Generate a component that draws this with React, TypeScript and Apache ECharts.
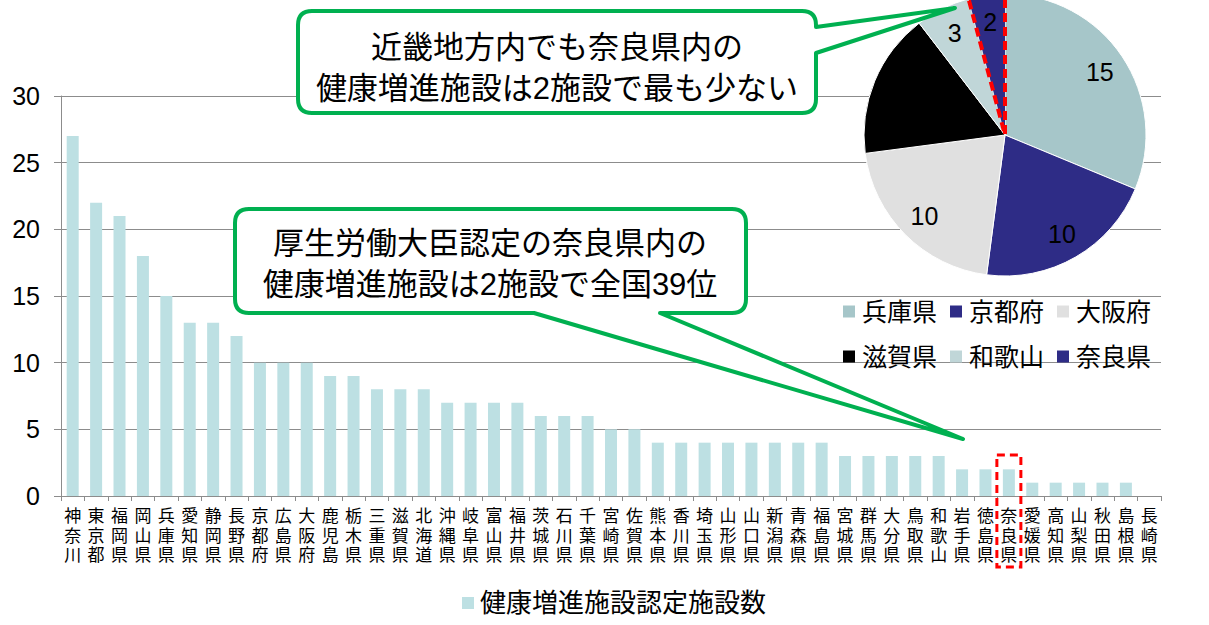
import React, { useEffect, useRef } from 'react';
import * as echarts from 'echarts';

const prefectures = ['神奈川', '東京都', '福岡県', '岡山県', '兵庫県', '愛知県', '静岡県', '長野県', '京都府', '広島県', '大阪府', '鹿児島', '栃木県', '三重県', '滋賀県', '北海道', '沖縄県', '岐阜県', '富山県', '福井県', '茨城県', '石川県', '千葉県', '宮崎県', '佐賀県', '熊本県', '香川県', '埼玉県', '山形県', '山口県', '新潟県', '青森県', '福島県', '宮城県', '群馬県', '大分県', '鳥取県', '和歌山', '岩手県', '徳島県', '奈良県', '愛媛県', '高知県', '山梨県', '秋田県', '島根県', '長崎県'];
const facilityCounts = [27, 22, 21, 18, 15, 13, 13, 12, 10, 10, 10, 9, 9, 8, 8, 8, 7, 7, 7, 7, 6, 6, 6, 5, 5, 4, 4, 4, 4, 4, 4, 4, 4, 3, 3, 3, 3, 3, 2, 2, 2, 1, 1, 1, 1, 1, 0];
const barSeriesName = '健康増進施設認定施設数';

const kinkiNames = ['兵庫県', '京都府', '大阪府', '滋賀県', '和歌山', '奈良県'];
const kinkiCounts = [15, 10, 10, 8, 3, 2];
const kinkiColors = ['#A6C6C9', '#2E2C86', '#E0E0E0', '#000000', '#C0D6D8', '#2E2C86'];
const highlightName = '奈良県';

const callout1Lines = ['近畿地方内でも奈良県内の', '健康増進施設は2施設で最も少ない'];
const callout2Lines = ['厚生労働大臣認定の奈良県内の', '健康増進施設は2施設で全国39位'];

const FONT = "'Liberation Sans', 'Noto Sans CJK JP', sans-serif";
const GRID_COLOR = '#8c8c8c';
const GREEN = '#00B050';

const callout1Path = 'M312 11 L802 11 Q816 11 816 25 L816 27 L955 8 L816 53 L816 99 Q816 113 802 113 L312 113 Q298 113 298 99 L298 25 Q298 11 312 11 Z';
const callout2Path = 'M249 209 L732 209 Q746 209 746 223 L746 299 Q746 313 732 313 L660 313 L963 439 L534 313 L249 313 Q235 313 235 299 L235 223 Q235 209 249 209 Z';

let registered = false;
function registerShapes() {
  if (registered) return;
  registered = true;
  echarts.graphic.registerShape('callout1', echarts.graphic.extendPath(callout1Path, {}));
  echarts.graphic.registerShape('callout2', echarts.graphic.extendPath(callout2Path, {}));
}

function textEl(id: string, text: string, x: number, y: number, size: number) {
  return {
    type: 'text',
    id,
    x,
    y,
    z: 102,
    style: {
      text,
      fill: '#000',
      fontSize: size,
      fontFamily: FONT,
      align: 'center',
      verticalAlign: 'middle',
      textAlign: 'center',
      textVerticalAlign: 'middle',
    },
  };
}

export default function App() {
  const ref = useRef<HTMLDivElement>(null);

  useEffect(() => {
    registerShapes();
    const chart = echarts.init(ref.current as HTMLDivElement, null, { renderer: 'svg' });

    const pieData = kinkiNames.map((name, i) => ({
      name,
      value: kinkiCounts[i],
      itemStyle:
        name === highlightName
          ? { color: kinkiColors[i], borderColor: '#FF0000', borderWidth: 4, borderType: [9, 5] }
          : { color: kinkiColors[i], borderColor: '#ffffff', borderWidth: 1 },
    }));
    const pieLabelData = kinkiNames.map((name, i) => ({ name, value: kinkiCounts[i] }));

    const legendCommon = {
      icon: 'rect',
      itemWidth: 12,
      itemHeight: 12,
      padding: 0,
      selectedMode: false,
      orient: 'horizontal',
      itemStyle: { borderWidth: 0 },
    };

    const option = {
      animation: false,
      textStyle: { fontFamily: FONT },
      grid: { left: 61, right: 48, top: 96, bottom: 129 },
      xAxis: {
        type: 'category',
        data: prefectures,
        axisLine: { lineStyle: { color: GRID_COLOR, width: 1 } },
        axisTick: { show: true, length: 5, lineStyle: { color: GRID_COLOR } },
        axisLabel: {
          interval: 0,
          formatter: (v: string) => v.split('').join('\n'),
          fontSize: 17,
          lineHeight: 19.5,
          color: '#000',
          margin: 11,
          fontFamily: FONT,
        },
      },
      yAxis: {
        type: 'value',
        min: 0,
        max: 30,
        interval: 5,
        axisLine: { show: true, lineStyle: { color: GRID_COLOR } },
        axisTick: { show: true, length: 7, lineStyle: { color: GRID_COLOR } },
        splitLine: { lineStyle: { color: GRID_COLOR } },
        axisLabel: { fontSize: 25, color: '#000', margin: 21, fontFamily: FONT },
      },
      legend: [
        {
          ...legendCommon,
          data: [barSeriesName],
          left: 462,
          top: 590,
          textStyle: { fontSize: 26, color: '#000', fontFamily: FONT, padding: [0, 0, 0, 1] },
        },
        {
          ...legendCommon,
          data: kinkiNames.slice(0, 3),
          left: 843,
          top: 299,
          itemGap: 13,
          textStyle: { fontSize: 25, color: '#000', fontFamily: FONT, padding: [0, 0, 0, 2] },
        },
        {
          ...legendCommon,
          data: kinkiNames.slice(3),
          left: 843,
          top: 344,
          itemGap: 13,
          textStyle: { fontSize: 25, color: '#000', fontFamily: FONT, padding: [0, 0, 0, 2] },
        },
      ],
      series: [
        {
          type: 'bar',
          name: barSeriesName,
          data: facilityCounts,
          barWidth: 12,
          itemStyle: { color: '#BDE0E3' },
          emphasis: { disabled: true },
        },
        {
          type: 'pie',
          name: 'kinki',
          center: [1005, 135],
          radius: [0, 141],
          startAngle: 90,
          clockwise: true,
          data: pieData,
          label: { show: false },
          labelLine: { show: false },
          emphasis: { disabled: true },
          silent: true,
          z: 3,
        },
        {
          type: 'pie',
          name: 'kinkiLabels',
          center: [1005, 135],
          radius: [82, 140],
          startAngle: 90,
          clockwise: true,
          data: pieLabelData,
          itemStyle: { color: 'rgba(0,0,0,0)', borderWidth: 0 },
          label: {
            show: true,
            position: 'inside',
            formatter: '{c}',
            fontSize: 25,
            color: '#000',
            fontFamily: FONT,
          },
          labelLine: { show: false },
          emphasis: { disabled: true },
          legendHoverLink: false,
          silent: true,
          z: 4,
        },
      ],
      graphic: [
        {
          type: 'callout1',
          id: 'callout1',
          x: 0,
          y: 0,
          z: 100,
          style: { fill: '#fff', stroke: GREEN, lineWidth: 4, lineJoin: 'round' },
        },
        textEl('c1l1', callout1Lines[0], 557, 47, 31),
        textEl('c1l2', callout1Lines[1], 557, 88, 31),
        {
          type: 'callout2',
          id: 'callout2',
          x: 0,
          y: 0,
          z: 100,
          style: { fill: '#fff', stroke: GREEN, lineWidth: 4, lineJoin: 'round' },
        },
        textEl('c2l1', callout2Lines[0], 490, 243, 31),
        textEl('c2l2', callout2Lines[1], 490, 284, 31),
      ],
    };

    chart.setOption(option as any);

    const cx = chart.convertToPixel({ xAxisIndex: 0 } as any, highlightName) as unknown as number;
    chart.setOption({
      graphic: [
        {
          type: 'rect',
          id: 'naraBox',
          z: 100,
          shape: { x: cx - 12, y: 455, width: 24, height: 112 },
          style: { fill: 'none', stroke: '#FF0000', lineWidth: 3, lineDash: [8, 5] },
        },
      ],
    } as any);

    return () => {
      chart.dispose();
    };
  }, []);

  return (
    <div
      ref={ref}
      style={{ position: 'fixed', left: 0, top: 0, width: 1209, height: 625, background: '#fff' }}
    />
  );
}
